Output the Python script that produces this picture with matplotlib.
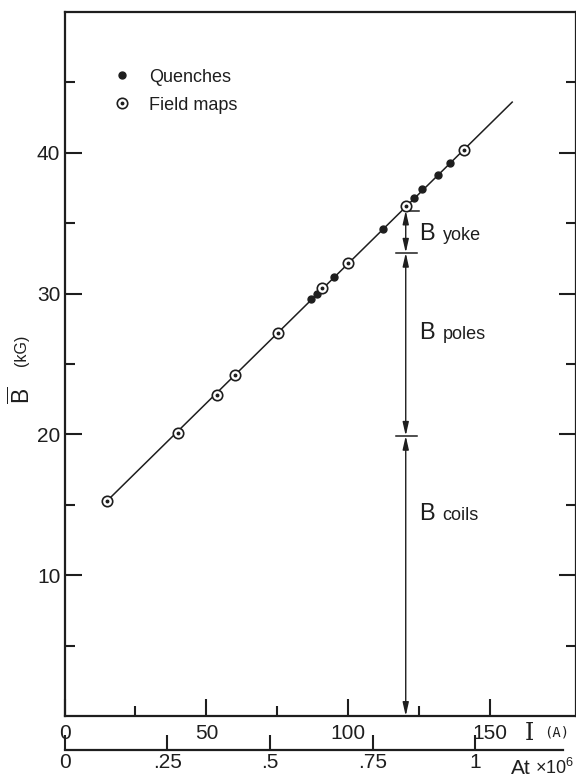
import matplotlib
matplotlib.use("Agg")
import matplotlib.pyplot as plt
from matplotlib.ticker import FixedLocator, NullFormatter

plt.rcParams['font.family'] = ['Liberation Sans', 'DejaVu Sans']
plt.rcParams['mathtext.fontset'] = 'custom'
plt.rcParams['mathtext.rm'] = 'Liberation Sans'

INK = '#1e1e1e'

# Excitation current (A) and mean field (kG)
quench_I = [87.0, 88.8, 95.0, 112.1, 123.2, 126.1, 131.4, 135.7]
quench_B = [29.6, 30.0, 31.2, 34.6, 36.8, 37.4, 38.4, 39.3]
map_I = [15.1, 40.1, 53.6, 60.0, 75.2, 90.8, 99.9, 120.2, 140.7]
map_B = [15.3, 20.1, 22.8, 24.2, 27.2, 30.4, 32.2, 36.2, 40.2]
line_I = [15.1, 157.7]
line_B = [15.3, 43.6]

# Field decomposition at the working point
split_I = 120.2
split_levels = [35.9, 32.9, 19.9, 0.0]      # top, yoke/poles, poles/coils, zero
split_names = ['yoke', 'poles', 'coils']
split_label_B = [33.8, 26.8, 13.9]

x_major = [0, 50, 100, 150]
x_minor = [25, 75, 125]
y_major = [10, 20, 30, 40]
y_minor = [5, 15, 25, 35, 45]
at_ticks = [0, 0.25, 0.5, 0.75, 1.0]
at_labels = ['0', '.25', '.5', '.75', '1']
amp_per_MAt = 144.7

fig = plt.figure(figsize=(5.76, 7.80), dpi=100)
ax = fig.add_axes([64.5 / 576, 1 - 716 / 780, 511 / 576, 704 / 780])
ax.set_xlim(0, 180)
ax.set_ylim(0, 50)

for s in ax.spines.values():
    s.set_linewidth(1.6)
    s.set_color(INK)

ax.plot(line_I, line_B, color=INK, lw=1.1, zorder=2)
q, = ax.plot(quench_I, quench_B, 'o', ms=5, color=INK, zorder=3, label='Quenches')
m_ring, = ax.plot(map_I, map_B, 'o', ms=7.5, mfc='white', mec=INK, mew=1.2, zorder=4)
m_dot, = ax.plot(map_I, map_B, 'o', ms=1.8, color=INK, zorder=5)

ax.xaxis.set_major_locator(FixedLocator(x_major))
ax.xaxis.set_minor_locator(FixedLocator(x_minor))
ax.yaxis.set_major_locator(FixedLocator(y_major))
ax.yaxis.set_minor_locator(FixedLocator(y_minor))
ax.xaxis.set_minor_formatter(NullFormatter())
ax.yaxis.set_minor_formatter(NullFormatter())
ax.tick_params(which='both', direction='in', color=INK, width=1.5, labelcolor=INK,
               labelsize=15, top=False, right=True)
ax.tick_params(which='major', length=12)
ax.tick_params(which='minor', length=7.5)
ax.tick_params(axis='x', pad=6)
ax.tick_params(axis='y', pad=3)

# Decomposition bracket
ax.plot([split_I, split_I + 4.5], [split_levels[0]] * 2, color=INK, lw=1.1)
for lv in split_levels[1:3]:
    ax.plot([split_I - 3.5, split_I + 4.0], [lv, lv], color=INK, lw=1.1)
for top, bot in zip(split_levels[:-1], split_levels[1:]):
    ax.annotate('', xy=(split_I, top), xytext=(split_I, bot),
                arrowprops=dict(arrowstyle='<|-|>,head_length=0.8,head_width=0.18',
                                color=INK, lw=1.0, shrinkA=0, shrinkB=0,
                                mutation_scale=10))
for name, yb in zip(split_names, split_label_B):
    ax.text(124.8, yb, 'B', fontsize=17, color=INK, va='baseline', ha='left')
    ax.text(133.2, yb, name, fontsize=13, color=INK, va='baseline', ha='left')

# Legend
ax.legend([q, (m_ring, m_dot)], ['Quenches', 'Field maps'],
          loc='upper left', bbox_to_anchor=(0.088, 0.93), frameon=False,
          fontsize=13, handlelength=0.6, handletextpad=1.2, labelspacing=0.62,
          borderaxespad=0, labelcolor=INK)

# Axis titles
fig.text(22 / 576, 1 - 395 / 780, r'$\overline{\mathrm{B}}$', rotation=90,
         fontsize=16.5, color=INK, ha='center', va='center')
fig.text(22 / 576, 1 - 350 / 780, '(kG)', rotation=90, fontsize=11.5,
         color=INK, ha='center', va='center')
fig.text(529 / 576, 1 - 733 / 780, 'I', family='DejaVu Serif', fontsize=17,
         color=INK, ha='center', va='center')
fig.text(544 / 576, 1 - 733 / 780, '(A)', family='DejaVu Sans Mono',
         fontsize=10, color=INK, ha='left', va='center')

# Ampere-turn scale
sec = ax.secondary_xaxis(-0.048, functions=(lambda i: i / amp_per_MAt,
                                            lambda a: a * amp_per_MAt))
sec.set_xticks(at_ticks)
sec.set_xticklabels(at_labels)
sec.spines['bottom'].set_bounds(0, 1.214)
sec.spines['bottom'].set_linewidth(1.6)
sec.spines['bottom'].set_color(INK)
sec.tick_params(direction='in', length=11, width=1.5, color=INK,
                labelsize=15, labelcolor=INK, pad=2)
fig.text(511 / 576, 1 - 768 / 780, 'At', fontsize=15, color=INK,
         ha='left', va='center')
fig.text(535 / 576, 1 - 768 / 780, r'$\times 10^6$', fontsize=13, color=INK,
         ha='left', va='center')

fig.savefig('out.png', dpi=100)
